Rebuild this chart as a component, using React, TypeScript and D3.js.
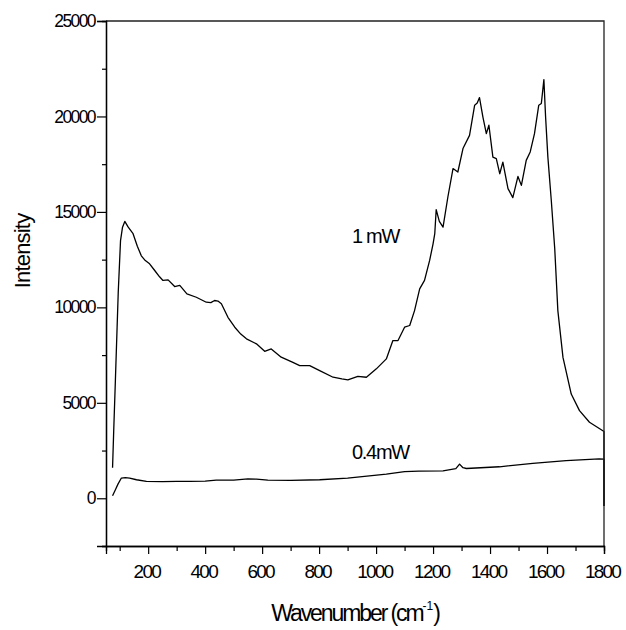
import React, { useRef, useEffect } from "react";
import { scaleLinear, line, axisBottom, axisLeft, select } from "d3";

// Raman spectra, two laser powers

const wave1mW = [75, 79, 85, 95, 103, 110, 118, 130, 147, 162, 176, 190, 205, 223, 240, 252, 270, 293, 311, 336, 369, 404, 420, 433, 445, 457, 480, 504, 525, 545, 580, 609, 632, 667, 708, 732, 767, 802, 849, 880, 901, 936, 966, 1001, 1036, 1059, 1077, 1100, 1118, 1135, 1153, 1170, 1188, 1200, 1206, 1211, 1222, 1235, 1252, 1270, 1287, 1305, 1328, 1346, 1355, 1363, 1375, 1387, 1396, 1410, 1422, 1434, 1445, 1463, 1480, 1498, 1510, 1527, 1541, 1556, 1571, 1580, 1589, 1595, 1603, 1615, 1627, 1638, 1656, 1685, 1714, 1749, 1796, 1800, 1800];
const int1mW = [1600, 3500, 6200, 10800, 13500, 14200, 14500, 14200, 13860, 13200, 12700, 12450, 12280, 11930, 11600, 11410, 11440, 11090, 11150, 10710, 10530, 10270, 10250, 10360, 10330, 10190, 9480, 8960, 8600, 8350, 8090, 7700, 7820, 7390, 7120, 6950, 6950, 6690, 6340, 6250, 6200, 6390, 6340, 6780, 7300, 8260, 8260, 8960, 9050, 9830, 10970, 11410, 12460, 13330, 13860, 15120, 14500, 14200, 15780, 17270, 17090, 18320, 19010, 20590, 20700, 20990, 19970, 19100, 19540, 17870, 17790, 17000, 17610, 16220, 15750, 16860, 16390, 17700, 18140, 19100, 20590, 20680, 21930, 19970, 17870, 15600, 13100, 9830, 7380, 5460, 4590, 3980, 3540, 3500, -400];

const wave04mW = [75, 85, 94, 106, 120, 135, 159, 194, 250, 300, 346, 400, 439, 500, 550, 580, 620, 700, 802, 900, 1036, 1100, 1150, 1235, 1280, 1293, 1305, 1317, 1433, 1550, 1667, 1783, 1800, 1800];
const int04mW = [130, 450, 740, 1060, 1080, 1060, 970, 880, 870, 880, 880, 900, 950, 950, 1020, 1000, 950, 940, 970, 1060, 1270, 1400, 1420, 1440, 1550, 1790, 1600, 1560, 1650, 1830, 1970, 2060, 2050, -400];

const xTicks = [200, 400, 600, 800, 1000, 1200, 1400, 1600, 1800];
const xMinor = [100, 300, 500, 700, 900, 1100, 1300, 1500, 1700];
const yTicks = [0, 5000, 10000, 15000, 20000, 25000];
const yMinor = [-2500, 2500, 7500, 12500, 17500, 22500];

const labels = [
  { text: "1 mW", x: 352, y: 243 },
  { text: "0.4mW", x: 352, y: 459 },
];

const margin = { top: 21, right: 22, bottom: 84, left: 106 },
  W = 626,
  H = 630,
  width = W - margin.left - margin.right,
  height = H - margin.top - margin.bottom,
  font = "'Liberation Sans', Arial, sans-serif";

export default function App() {
  const svgRef = useRef<SVGSVGElement>(null);

  useEffect(() => {
    const svg = select(svgRef.current);
    svg.selectAll("*").remove();

    const g = svg.append("g").attr("transform", `translate(${margin.left},${margin.top})`);

    const x = scaleLinear().domain([52, 1800]).range([0, width]);
    const y = scaleLinear().domain([-2500, 25000]).range([height, 0]);

    const lineGen = line<[number, number]>()
      .x((d) => x(d[0]))
      .y((d) => y(d[1]));

    const series = [
      wave1mW.map((w, i) => [w, int1mW[i]] as [number, number]),
      wave04mW.map((w, i) => [w, int04mW[i]] as [number, number]),
    ];

    g.selectAll(".spec")
      .data(series)
      .join("path")
      .attr("class", "spec")
      .attr("d", lineGen)
      .attr("fill", "none")
      .attr("stroke", "#000")
      .attr("stroke-width", 1.3)
      .attr("stroke-linejoin", "round");

    // frame
    g.append("path")
      .attr("d", `M0,0H${width}V${height}`)
      .attr("fill", "none")
      .attr("stroke", "#222")
      .attr("stroke-width", 1.3);

    // minor ticks
    g.append("g")
      .attr("transform", `translate(0,${height})`)
      .call(axisBottom(x).tickValues(xMinor).tickSize(5).tickFormat(() => ""));
    g.append("g").call(axisLeft(y).tickValues(yMinor).tickSize(4).tickFormat(() => ""));

    const xAxis = g
      .append("g")
      .attr("transform", `translate(0,${height})`)
      .call(axisBottom(x).tickValues(xTicks).tickSize(8).tickPadding(11).tickFormat((d) => String(d)));
    xAxis.selectAll("text").attr("font-size", 19).attr("letter-spacing", -1.8).attr("dx", "-0.1em");

    const yAxis = g
      .append("g")
      .call(axisLeft(y).tickValues(yTicks).tickSize(9).tickPadding(2).tickFormat((d) => String(d)));
    yAxis.selectAll("text").attr("font-size", 17.5).attr("letter-spacing", -1.6);

    g.selectAll(".domain").attr("stroke", "#000").attr("stroke-width", 1.3);
    g.selectAll(".tick line").attr("stroke", "#000").attr("stroke-width", 1.2);
    g.selectAll(".tick text").attr("font-family", font).attr("fill", "#000");

    // labels
    svg
      .selectAll(".lbl")
      .data(labels)
      .join("text")
      .attr("class", "lbl")
      .attr("x", (d) => d.x)
      .attr("y", (d) => d.y)
      .attr("font-family", font)
      .attr("font-size", 20)
      .attr("letter-spacing", -1.3)
      .text((d) => d.text);

    // axis titles
    const xt = svg
      .append("text")
      .attr("x", margin.left + width / 2)
      .attr("y", 621)
      .attr("text-anchor", "middle")
      .attr("font-family", font)
      .attr("font-size", 23)
      .attr("letter-spacing", -2.1);
    xt.append("tspan").text("Wavenumber (cm");
    xt.append("tspan").attr("font-size", 12).attr("dy", -11).attr("letter-spacing", 0).text("-1");
    xt.append("tspan").attr("dy", 11).text(")");

    svg
      .append("text")
      .attr("transform", `translate(30,251) rotate(-90)`)
      .attr("text-anchor", "middle")
      .attr("font-family", font)
      .attr("font-size", 22)
      .attr("letter-spacing", -0.8)
      .text("Intensity");

    return () => {
      svg.selectAll("*").remove();
    };
  }, []);

  return (
    <svg
      ref={svgRef}
      width={W}
      height={H}
      style={{ position: "absolute", left: 0, top: 0, background: "#fff" }}
    />
  );
}
